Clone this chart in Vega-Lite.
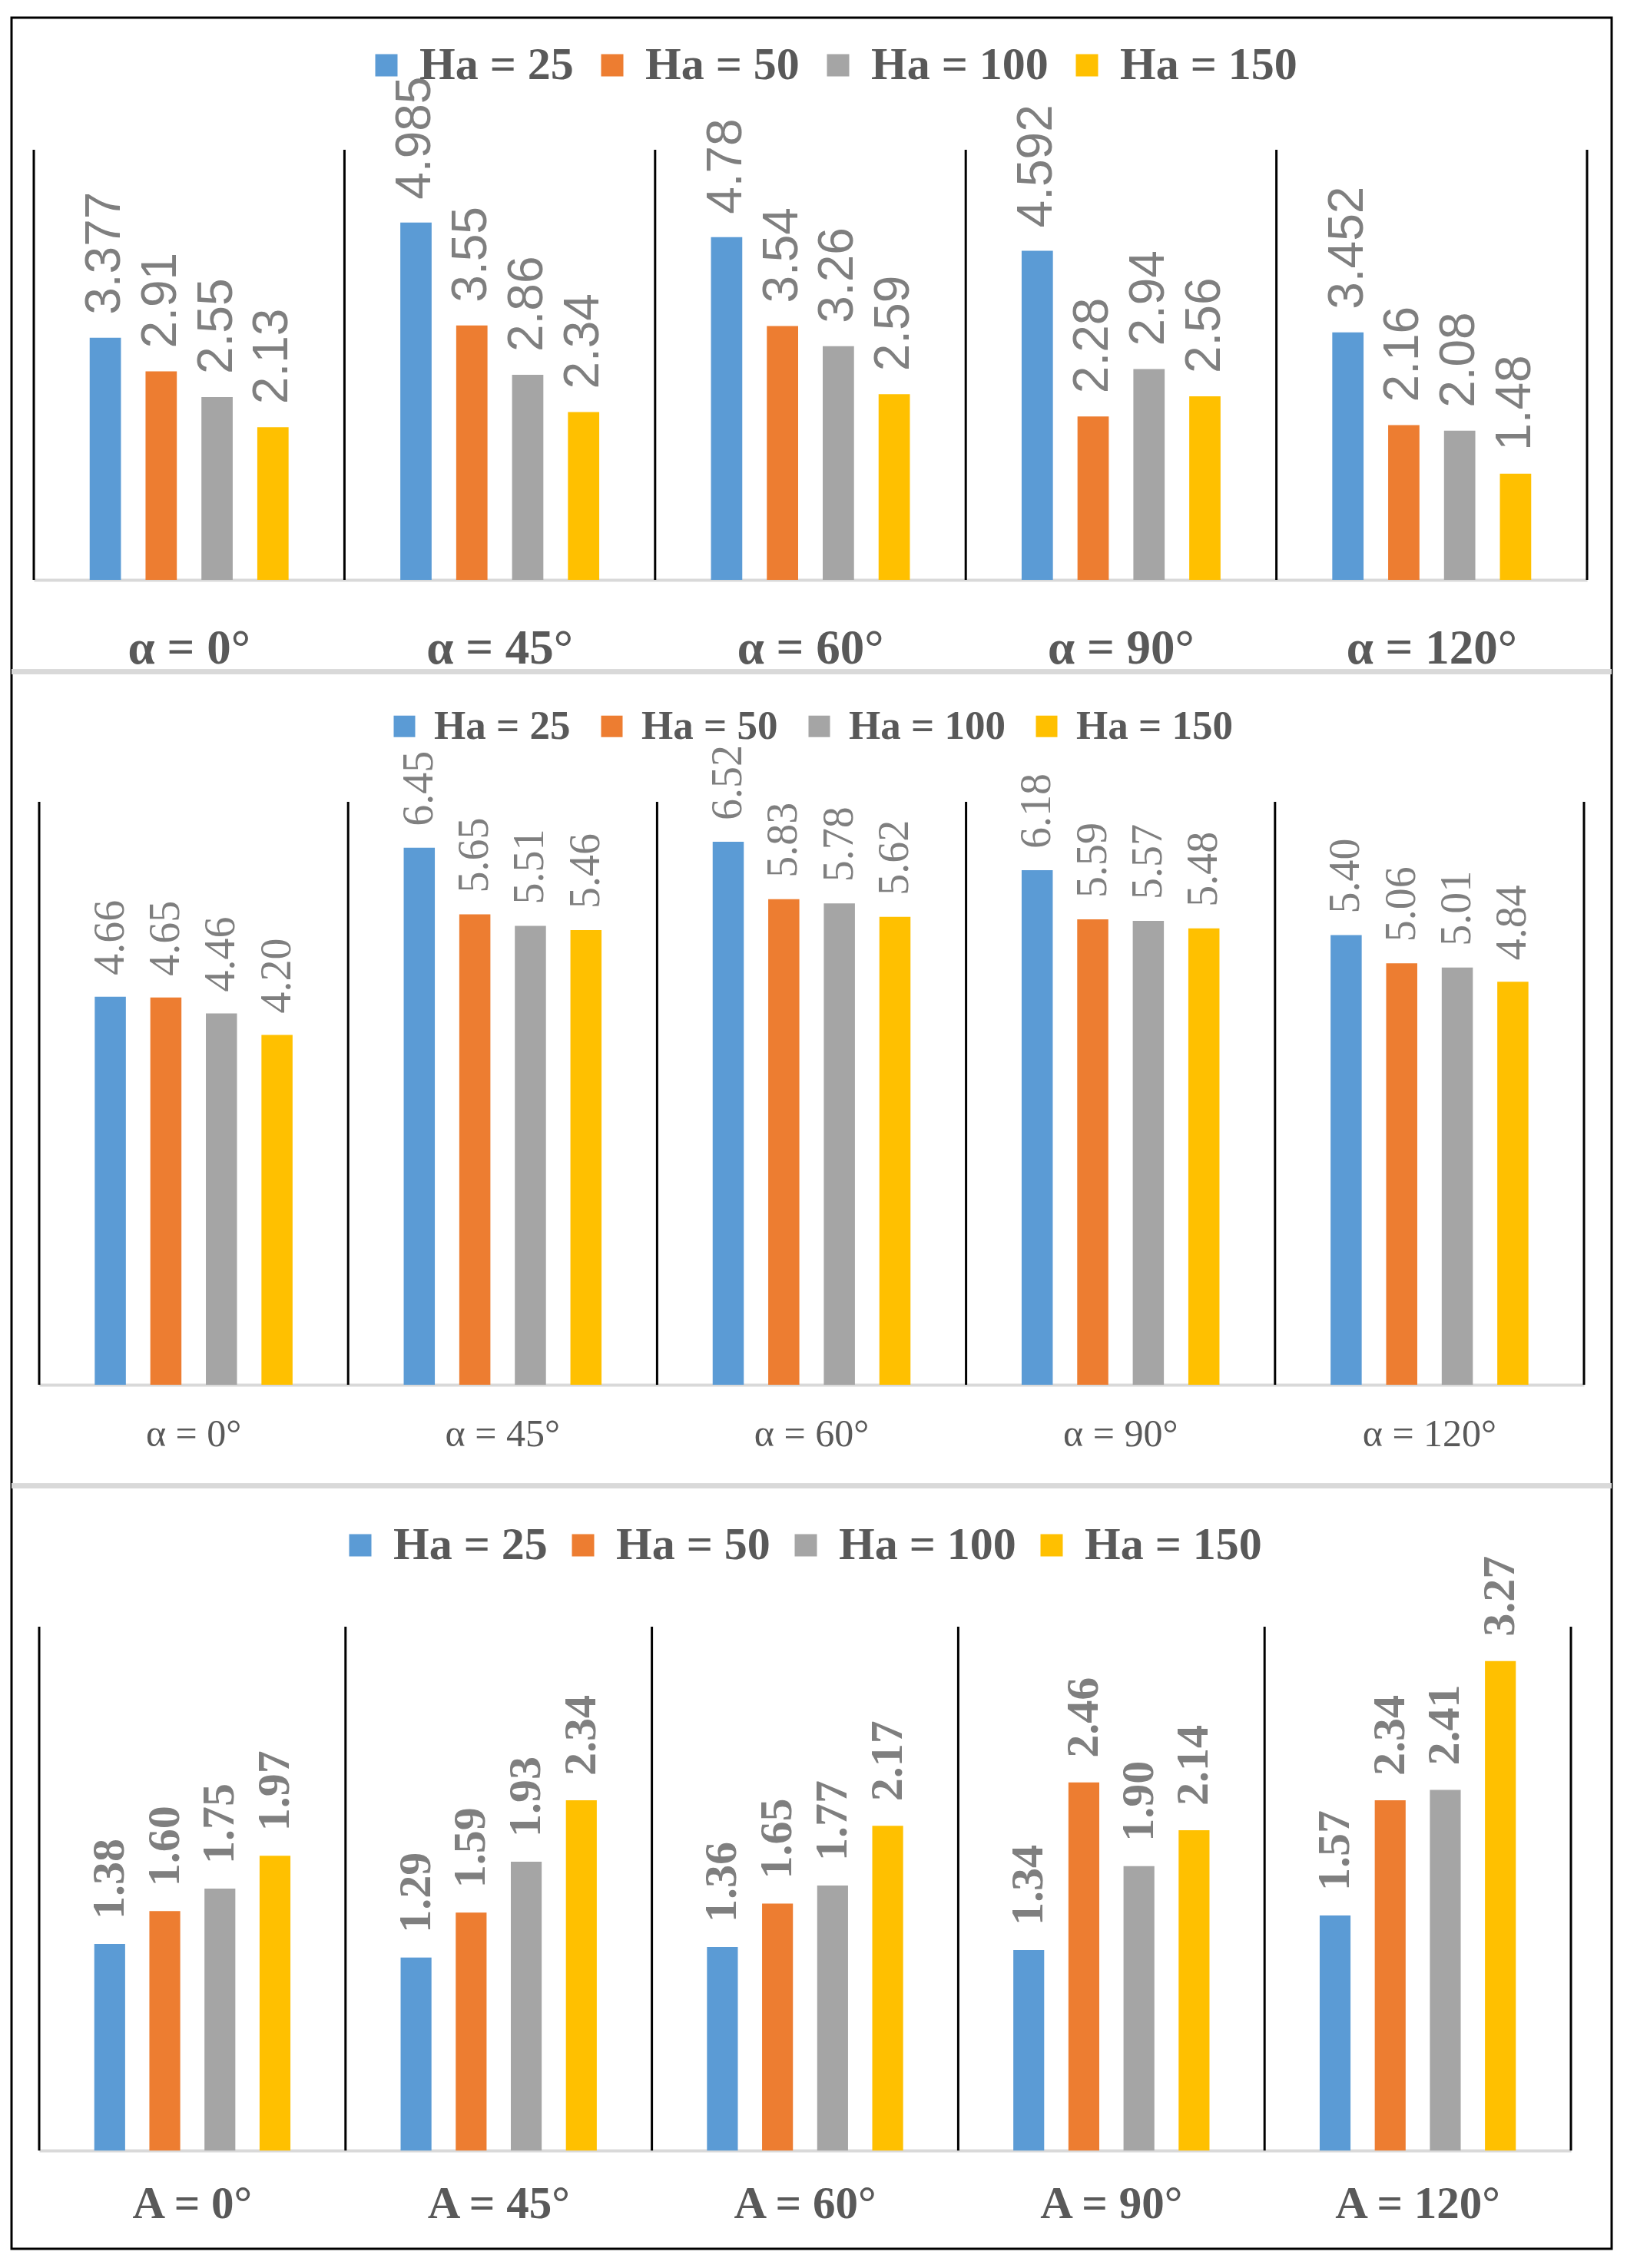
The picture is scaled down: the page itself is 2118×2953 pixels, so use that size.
{
  "$schema": "https://vega.github.io/schema/vega-lite/v6.json",
  "width": 2083,
  "height": 2905,
  "autosize": {"type": "none"},
  "padding": {"left": 15, "top": 23, "right": 20, "bottom": 25},
  "background": "white",
  "config": {"view": {"stroke": "black", "strokeWidth": 3}},
  "datasets": {
    "p1": [
      {"angle": "α = 0°", "Ha": "Ha = 25", "value": 3.377},
      {"angle": "α = 0°", "Ha": "Ha = 50", "value": 2.91},
      {"angle": "α = 0°", "Ha": "Ha = 100", "value": 2.55},
      {"angle": "α = 0°", "Ha": "Ha = 150", "value": 2.13},
      {"angle": "α = 45°", "Ha": "Ha = 25", "value": 4.985},
      {"angle": "α = 45°", "Ha": "Ha = 50", "value": 3.55},
      {"angle": "α = 45°", "Ha": "Ha = 100", "value": 2.86},
      {"angle": "α = 45°", "Ha": "Ha = 150", "value": 2.34},
      {"angle": "α = 60°", "Ha": "Ha = 25", "value": 4.78},
      {"angle": "α = 60°", "Ha": "Ha = 50", "value": 3.54},
      {"angle": "α = 60°", "Ha": "Ha = 100", "value": 3.26},
      {"angle": "α = 60°", "Ha": "Ha = 150", "value": 2.59},
      {"angle": "α = 90°", "Ha": "Ha = 25", "value": 4.592},
      {"angle": "α = 90°", "Ha": "Ha = 50", "value": 2.28},
      {"angle": "α = 90°", "Ha": "Ha = 100", "value": 2.94},
      {"angle": "α = 90°", "Ha": "Ha = 150", "value": 2.56},
      {"angle": "α = 120°", "Ha": "Ha = 25", "value": 3.452},
      {"angle": "α = 120°", "Ha": "Ha = 50", "value": 2.16},
      {"angle": "α = 120°", "Ha": "Ha = 100", "value": 2.08},
      {"angle": "α = 120°", "Ha": "Ha = 150", "value": 1.48}
    ],
    "p2": [
      {"angle": "α = 0°", "Ha": "Ha = 25", "value": 4.66},
      {"angle": "α = 0°", "Ha": "Ha = 50", "value": 4.65},
      {"angle": "α = 0°", "Ha": "Ha = 100", "value": 4.46},
      {"angle": "α = 0°", "Ha": "Ha = 150", "value": 4.20},
      {"angle": "α = 45°", "Ha": "Ha = 25", "value": 6.45},
      {"angle": "α = 45°", "Ha": "Ha = 50", "value": 5.65},
      {"angle": "α = 45°", "Ha": "Ha = 100", "value": 5.51},
      {"angle": "α = 45°", "Ha": "Ha = 150", "value": 5.46},
      {"angle": "α = 60°", "Ha": "Ha = 25", "value": 6.52},
      {"angle": "α = 60°", "Ha": "Ha = 50", "value": 5.83},
      {"angle": "α = 60°", "Ha": "Ha = 100", "value": 5.78},
      {"angle": "α = 60°", "Ha": "Ha = 150", "value": 5.62},
      {"angle": "α = 90°", "Ha": "Ha = 25", "value": 6.18},
      {"angle": "α = 90°", "Ha": "Ha = 50", "value": 5.59},
      {"angle": "α = 90°", "Ha": "Ha = 100", "value": 5.57},
      {"angle": "α = 90°", "Ha": "Ha = 150", "value": 5.48},
      {"angle": "α = 120°", "Ha": "Ha = 25", "value": 5.40},
      {"angle": "α = 120°", "Ha": "Ha = 50", "value": 5.06},
      {"angle": "α = 120°", "Ha": "Ha = 100", "value": 5.01},
      {"angle": "α = 120°", "Ha": "Ha = 150", "value": 4.84}
    ],
    "p3": [
      {"angle": "A = 0°", "Ha": "Ha = 25", "value": 1.38},
      {"angle": "A = 0°", "Ha": "Ha = 50", "value": 1.60},
      {"angle": "A = 0°", "Ha": "Ha = 100", "value": 1.75},
      {"angle": "A = 0°", "Ha": "Ha = 150", "value": 1.97},
      {"angle": "A = 45°", "Ha": "Ha = 25", "value": 1.29},
      {"angle": "A = 45°", "Ha": "Ha = 50", "value": 1.59},
      {"angle": "A = 45°", "Ha": "Ha = 100", "value": 1.93},
      {"angle": "A = 45°", "Ha": "Ha = 150", "value": 2.34},
      {"angle": "A = 60°", "Ha": "Ha = 25", "value": 1.36},
      {"angle": "A = 60°", "Ha": "Ha = 50", "value": 1.65},
      {"angle": "A = 60°", "Ha": "Ha = 100", "value": 1.77},
      {"angle": "A = 60°", "Ha": "Ha = 150", "value": 2.17},
      {"angle": "A = 90°", "Ha": "Ha = 25", "value": 1.34},
      {"angle": "A = 90°", "Ha": "Ha = 50", "value": 2.46},
      {"angle": "A = 90°", "Ha": "Ha = 100", "value": 1.90},
      {"angle": "A = 90°", "Ha": "Ha = 150", "value": 2.14},
      {"angle": "A = 120°", "Ha": "Ha = 25", "value": 1.57},
      {"angle": "A = 120°", "Ha": "Ha = 50", "value": 2.34},
      {"angle": "A = 120°", "Ha": "Ha = 100", "value": 2.41},
      {"angle": "A = 120°", "Ha": "Ha = 150", "value": 3.27}
    ]
  },
  "layer": [
    {
      "data": {"name": "p1"},
      "encoding": {
        "y": {"field": "value", "type": "quantitative", "scale": {"domain": [0, 6], "range": [732, 172], "nice": false}, "axis": null}
      },
      "layer": [
        {
          "mark": {"type": "bar"},
          "encoding": {
            "x": {
              "field": "angle", "type": "nominal", "title": null,
              "scale": {"domain": ["α = 0°", "α = 45°", "α = 60°", "α = 90°", "α = 120°"], "range": [29, 2051], "paddingInner": 0, "paddingOuter": 0},
              "axis": {"orient": "bottom", "offset": -2173, "title": null, "ticks": false, "tickSize": 0, "labelAngle": 0, "labelPadding": 89, "labelBaseline": "middle", "labelFont": "Liberation Serif", "labelFontSize": 63, "labelFontWeight": "bold", "labelColor": "#595959", "labelLimit": 0, "domainColor": "#d9d9d9", "domainWidth": 4, "grid": false}
            },
            "xOffset": {"field": "Ha", "type": "nominal", "scale": {"domain": ["Ha = 25", "Ha = 50", "Ha = 100", "Ha = 150"], "paddingInner": 0.44, "paddingOuter": 1.17}},
            "color": {
              "field": "Ha", "type": "nominal",
              "scale": {"domain": ["Ha = 25", "Ha = 50", "Ha = 100", "Ha = 150"], "range": ["#5B9BD5", "#ED7D31", "#A5A5A5", "#FFC000"]},
              "legend": {"orient": "none", "legendX": 458, "legendY": 32, "direction": "horizontal", "title": null, "padding": 0, "symbolType": "square", "symbolSize": 841, "symbolStrokeWidth": 0, "symbolOpacity": 1, "labelFont": "Liberation Serif", "labelFontSize": 60, "labelFontWeight": "bold", "labelColor": "#595959", "labelLimit": 0, "labelOffset": 13, "columnPadding": 20}
            }
          }
        },
        {
          "mark": {"type": "text", "angle": 270, "align": "left", "baseline": "middle", "dx": 30, "font": "Liberation Sans", "fontSize": 64, "color": "#7f7f7f"},
          "encoding": {
            "x": {"field": "angle", "type": "nominal", "title": null},
            "xOffset": {"field": "Ha", "type": "nominal"},
            "text": {"field": "value", "type": "nominal"}
          }
        },
        {
          "transform": [{"filter": "datum.Ha == 'Ha = 25'"}],
          "mark": {"type": "rule", "color": "black", "strokeWidth": 3},
          "encoding": {
            "x": {"field": "angle", "type": "nominal", "title": null, "bandPosition": 0},
            "y": {"datum": 0, "type": "quantitative", "axis": null},
            "y2": {"datum": 6}
          }
        },
        {
          "transform": [{"filter": "datum.Ha == 'Ha = 25' && datum.angle == 'α = 120°'"}],
          "mark": {"type": "rule", "color": "black", "strokeWidth": 3},
          "encoding": {
            "x": {"field": "angle", "type": "nominal", "title": null, "bandPosition": 1},
            "y": {"datum": 0, "type": "quantitative", "axis": null},
            "y2": {"datum": 6}
          }
        }
      ]
    },
    {
      "data": {"name": "p2"},
      "encoding": {
        "y": {"field": "value", "type": "quantitative", "scale": {"domain": [0, 7], "range": [1780, 1021], "nice": false}, "axis": null}
      },
      "layer": [
        {
          "mark": {"type": "rule", "color": "#d9d9d9", "strokeWidth": 6},
          "encoding": {"y": {"datum": 8.56, "type": "quantitative", "axis": null}}
        },
        {
          "mark": {"type": "bar"},
          "encoding": {
            "x": {
              "field": "angle", "type": "nominal", "title": null,
              "scale": {"domain": ["α = 0°", "α = 45°", "α = 60°", "α = 90°", "α = 120°"], "range": [36, 2047], "paddingInner": 0, "paddingOuter": 0},
              "axis": {"orient": "bottom", "offset": -1125, "title": null, "ticks": false, "tickSize": 0, "labelAngle": 0, "labelPadding": 64, "labelBaseline": "middle", "labelFont": "Liberation Serif", "labelFontSize": 50, "labelFontWeight": "normal", "labelColor": "#595959", "labelLimit": 0, "domainColor": "#d9d9d9", "domainWidth": 4, "grid": false}
            },
            "xOffset": {"field": "Ha", "type": "nominal", "scale": {"domain": ["Ha = 25", "Ha = 50", "Ha = 100", "Ha = 150"], "paddingInner": 0.44, "paddingOuter": 1.17}},
            "color": {
              "field": "Ha", "type": "nominal",
              "scale": {"domain": ["Ha = 25", "Ha = 50", "Ha = 100", "Ha = 150"], "range": ["#5B9BD5", "#ED7D31", "#A5A5A5", "#FFC000"]},
              "legend": {"orient": "none", "legendX": 485, "legendY": 896, "direction": "horizontal", "title": null, "padding": 0, "symbolType": "square", "symbolSize": 784, "symbolStrokeWidth": 0, "symbolOpacity": 1, "labelFont": "Liberation Serif", "labelFontSize": 53, "labelFontWeight": "bold", "labelColor": "#595959", "labelLimit": 0, "labelOffset": 12, "columnPadding": 27}
            }
          }
        },
        {
          "mark": {"type": "text", "angle": 270, "align": "left", "baseline": "middle", "dx": 28, "font": "Liberation Serif", "fontSize": 56, "color": "#7f7f7f"},
          "encoding": {
            "x": {"field": "angle", "type": "nominal", "title": null},
            "xOffset": {"field": "Ha", "type": "nominal"},
            "text": {"field": "value", "type": "quantitative", "format": ".2f"}
          }
        },
        {
          "transform": [{"filter": "datum.Ha == 'Ha = 25'"}],
          "mark": {"type": "rule", "color": "black", "strokeWidth": 3},
          "encoding": {
            "x": {"field": "angle", "type": "nominal", "title": null, "bandPosition": 0},
            "y": {"datum": 0, "type": "quantitative", "axis": null},
            "y2": {"datum": 7}
          }
        },
        {
          "transform": [{"filter": "datum.Ha == 'Ha = 25' && datum.angle == 'α = 120°'"}],
          "mark": {"type": "rule", "color": "black", "strokeWidth": 3},
          "encoding": {
            "x": {"field": "angle", "type": "nominal", "title": null, "bandPosition": 1},
            "y": {"datum": 0, "type": "quantitative", "axis": null},
            "y2": {"datum": 7}
          }
        }
      ]
    },
    {
      "data": {"name": "p3"},
      "encoding": {
        "y": {"field": "value", "type": "quantitative", "scale": {"domain": [0, 3.5], "range": [2777, 2095], "nice": false}, "axis": null}
      },
      "layer": [
        {
          "mark": {"type": "rule", "color": "#d9d9d9", "strokeWidth": 6},
          "encoding": {"y": {"datum": 4.44, "type": "quantitative", "axis": null}}
        },
        {
          "mark": {"type": "bar"},
          "encoding": {
            "x": {
              "field": "angle", "type": "nominal", "title": null,
              "scale": {"domain": ["A = 0°", "A = 45°", "A = 60°", "A = 90°", "A = 120°"], "range": [36, 2030], "paddingInner": 0, "paddingOuter": 0},
              "axis": {"orient": "bottom", "offset": -128, "title": null, "ticks": false, "tickSize": 0, "labelAngle": 0, "labelPadding": 69, "labelBaseline": "middle", "labelFont": "Liberation Serif", "labelFontSize": 59, "labelFontWeight": "bold", "labelColor": "#595959", "labelLimit": 0, "domainColor": "#d9d9d9", "domainWidth": 4, "grid": false}
            },
            "xOffset": {"field": "Ha", "type": "nominal", "scale": {"domain": ["Ha = 25", "Ha = 50", "Ha = 100", "Ha = 150"], "paddingInner": 0.44, "paddingOuter": 1.17}},
            "color": {
              "field": "Ha", "type": "nominal",
              "scale": {"domain": ["Ha = 25", "Ha = 50", "Ha = 100", "Ha = 150"], "range": ["#5B9BD5", "#ED7D31", "#A5A5A5", "#FFC000"]},
              "legend": {"orient": "none", "legendX": 424, "legendY": 1959, "direction": "horizontal", "title": null, "padding": 0, "symbolType": "square", "symbolSize": 841, "symbolStrokeWidth": 0, "symbolOpacity": 1, "labelFont": "Liberation Serif", "labelFontSize": 60, "labelFontWeight": "bold", "labelColor": "#595959", "labelLimit": 0, "labelOffset": 13, "columnPadding": 16}
            }
          }
        },
        {
          "mark": {"type": "text", "angle": 270, "align": "left", "baseline": "middle", "dx": 32, "font": "Liberation Serif", "fontSize": 60, "fontWeight": "bold", "color": "#7f7f7f"},
          "encoding": {
            "x": {"field": "angle", "type": "nominal", "title": null},
            "xOffset": {"field": "Ha", "type": "nominal"},
            "text": {"field": "value", "type": "quantitative", "format": ".2f"}
          }
        },
        {
          "transform": [{"filter": "datum.Ha == 'Ha = 25'"}],
          "mark": {"type": "rule", "color": "black", "strokeWidth": 3},
          "encoding": {
            "x": {"field": "angle", "type": "nominal", "title": null, "bandPosition": 0},
            "y": {"datum": 0, "type": "quantitative", "axis": null},
            "y2": {"datum": 3.5}
          }
        },
        {
          "transform": [{"filter": "datum.Ha == 'Ha = 25' && datum.angle == 'A = 120°'"}],
          "mark": {"type": "rule", "color": "black", "strokeWidth": 3},
          "encoding": {
            "x": {"field": "angle", "type": "nominal", "title": null, "bandPosition": 1},
            "y": {"datum": 0, "type": "quantitative", "axis": null},
            "y2": {"datum": 3.5}
          }
        }
      ]
    }
  ],
  "resolve": {
    "scale": {"x": "independent", "y": "independent", "xOffset": "independent", "color": "independent"},
    "axis": {"x": "independent", "y": "independent"},
    "legend": {"color": "independent"}
  }
}
